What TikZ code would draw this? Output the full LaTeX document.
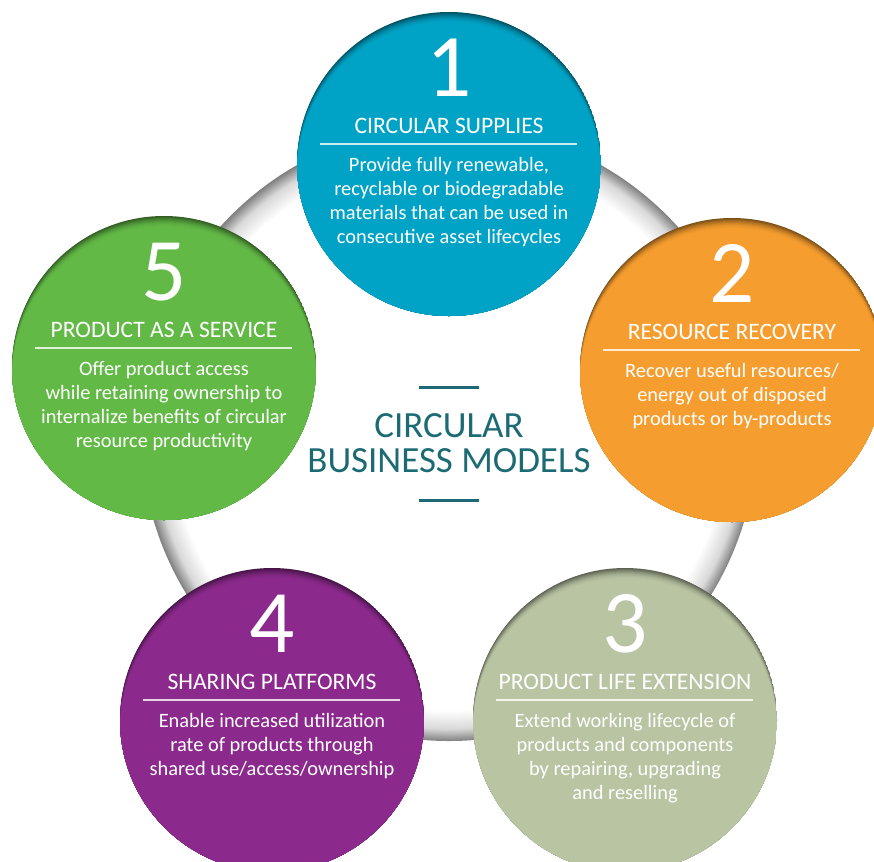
\documentclass[tikz,border=0pt]{standalone}
\usepackage{fontspec}
\setmainfont{Carlito}
\definecolor{supplyblue}{HTML}{00A3C6}
\definecolor{recoveryorange}{HTML}{F59D2E}
\definecolor{extensionsage}{HTML}{B9C4A3}
\definecolor{sharingpurple}{HTML}{8B2A8C}
\definecolor{servicegreen}{HTML}{62B946}
\definecolor{modelteal}{HTML}{1C6B74}
% white disc with a soft grey rim
\pgfdeclareradialshading{ringshade}{\pgfpoint{0bp}{0bp}}{color(0bp)=(white); color(22.5bp)=(white); color(24bp)=(black!15); color(25bp)=(black!50); color(50bp)=(black!50)}

\begin{document}
\begin{tikzpicture}[x=0.75pt, y=-0.75pt,
    bubble/.style={circle, minimum size=228pt, inner sep=0pt},
    numeral/.style={anchor=base, text=white, inner sep=0pt, font=\fontsize{67}{67}\selectfont},
    heading/.style={anchor=base, text=white, inner sep=0pt, font=\fontsize{17.7}{19}\selectfont},
    blurb/.style={anchor=base, text=white, inner sep=0pt, align=center, font=\fontsize{15.3}{17.8}\selectfont},
    divider/.style={draw=white, opacity=0.8, line width=1.1pt},
    tealrule/.style={draw=modelteal, line width=2.25pt}]

    \useasboundingbox (0,0) rectangle (874,861);
    \shade[shading=ringshade] (449,433) circle (308);

    % coloured discs, darker towards the top rim
    \foreach \name/\pos/\col in {supply/{449,164}/supplyblue, recovery/{732,370}/recoveryorange,
        extension/{625,720}/extensionsage, sharing/{272,720}/sharingpurple, service/{164,368}/servicegreen} {
        \begin{scope}
            \clip (\pos) circle (152);
            \fill[\col!50!black] (\pos) circle (152);
            \foreach \d/\m in {1/58, 2/65, 3/72, 4/78, 5/84, 6/89, 7/93, 8/96, 9/98, 10/100}
                \fill[\col!\m!black, shift={(0,\d)}] (\pos) circle (152);
        \end{scope}
        \node (\name) [bubble] at (\pos) {};
    }

    % 1 (blurb anchored on its last line)
    \node (supplynum) [numeral] at ([yshift=51pt]supply.center) {1};
    \node (supplyhead) [heading] at ([yshift=23.25pt]supply.center) {CIRCULAR SUPPLIES};
    \draw [divider] ([xshift=-96.4pt, yshift=15pt]supply.center) -- ++(257,0);
    \node (supplytext) [blurb] at ([yshift=-59.3pt]supply.center) {Provide fully renewable,\\recyclable or biodegradable\\materials that can be used in\\consecutive asset lifecycles};

    % 2
    \node (recoverynum) [numeral] at ([yshift=51pt]recovery.center) {2};
    \node (recoveryhead) [heading] at ([yshift=23.25pt]recovery.center) {RESOURCE RECOVERY};
    \draw [divider] ([xshift=-96.4pt, yshift=15pt]recovery.center) -- ++(257,0);
    \node (recoverytext) [blurb] at ([yshift=-41.5pt]recovery.center) {Recover useful resources/\\energy out of disposed\\products or by-products};

    % 3
    \node (extensionnum) [numeral] at ([yshift=51pt]extension.center) {3};
    \node (extensionhead) [heading] at ([yshift=23.25pt]extension.center) {PRODUCT LIFE EXTENSION};
    \draw [divider] ([xshift=-96.4pt, yshift=15pt]extension.center) -- ++(257,0);
    \node (extensiontext) [blurb] at ([yshift=-59.3pt]extension.center) {Extend working lifecycle of\\products and components\\by repairing, upgrading\\and reselling};

    % 4
    \node (sharingnum) [numeral] at ([yshift=51pt]sharing.center) {4};
    \node (sharinghead) [heading] at ([yshift=23.25pt]sharing.center) {SHARING PLATFORMS};
    \draw [divider] ([xshift=-96.4pt, yshift=15pt]sharing.center) -- ++(257,0);
    \node (sharingtext) [blurb] at ([yshift=-41.5pt]sharing.center) {Enable increased utilization\\rate of products through\\shared use/access/ownership};

    % 5
    \node (servicenum) [numeral] at ([yshift=51pt]service.center) {5};
    \node (servicehead) [heading] at ([yshift=23.25pt]service.center) {PRODUCT AS A SERVICE};
    \draw [divider] ([xshift=-96.4pt, yshift=15pt]service.center) -- ++(257,0);
    \node (servicetext) [blurb] at ([yshift=-59.3pt]service.center) {Offer product access\\while retaining ownership to\\internalize benefits of circular\\resource productivity};

    % centre title
    \node (title) [anchor=base, text=modelteal, align=center, inner sep=0pt,
        font=\fontsize{27.7}{26.25}\selectfont] at (449,472) {CIRCULAR\\BUSINESS MODELS};
    \draw [tealrule] ([xshift=-22.5pt, yshift=63.75pt]title.base) -- ++(60,0);
    \draw [tealrule] ([xshift=-22.5pt, yshift=-21pt]title.base) -- ++(60,0);
\end{tikzpicture}
\end{document}
